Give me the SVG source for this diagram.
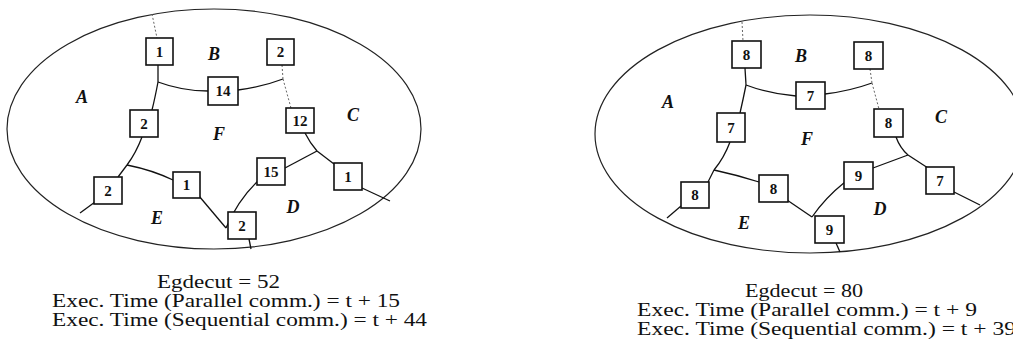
<svg xmlns="http://www.w3.org/2000/svg" width="1013" height="348" viewBox="0 0 1013 348">
<style>
.ell{fill:none;stroke:#222;stroke-width:1.2}
.box{fill:#fff;stroke:#111;stroke-width:1.6}
.num{font-family:"Liberation Serif",serif;font-weight:bold;font-size:15px;text-anchor:middle;fill:#111}
.reg{font-family:"Liberation Serif",serif;font-style:italic;font-weight:bold;font-size:18px;text-anchor:middle;fill:#111}
.cap{font-family:"Liberation Serif",serif;font-size:19px;fill:#111}
.ln{fill:none;stroke:#111;stroke-width:1.3}
.faint{fill:none;stroke:#666;stroke-width:1;stroke-dasharray:2 2}
</style>
<rect width="1013" height="348" fill="#fff"/>
<ellipse class="ell" cx="214" cy="129" rx="207" ry="120"/>
<ellipse class="ell" cx="810" cy="134" rx="215" ry="119"/>
<g id="connectors">
<path class="faint" d="M152,14 L157,38"/>
<path class="ln" d="M158,65 L158,82"/>
<path class="ln" d="M158,82 Q182,91 208,91"/>
<path class="ln" d="M238,90 Q262,87 283,79"/>
<path class="faint" d="M282,65 L283,79"/>
<path class="faint" d="M283,79 L291,108"/>
<path class="ln" d="M158,82 Q155,98 152,110"/>
<path class="ln" d="M142,137 Q136,153 127,165"/>
<path class="ln" d="M127,165 L118,177"/>
<path class="ln" d="M127,165 Q152,170 173,180"/>
<path class="ln" d="M95,202 L80,213"/>
<path class="ln" d="M199,196 L226,228"/>
<path class="ln" d="M258,181 Q238,200 226,228"/>
<path class="ln" d="M285,168 L317,151"/>
<path class="ln" d="M305,133 Q310,143 317,151"/>
<path class="ln" d="M317,151 L334,164"/>
<path class="ln" d="M362,188 L390,201"/>
<path class="ln" d="M249,239 L251,249"/>
<path class="faint" d="M742,22 L743,41"/>
<path class="ln" d="M745,68 L746,85"/>
<path class="ln" d="M746,85 Q770,94 796,96"/>
<path class="ln" d="M825,94 Q850,91 872,83"/>
<path class="faint" d="M870,69 L872,83"/>
<path class="faint" d="M872,83 L879,109"/>
<path class="ln" d="M746,85 Q743,100 740,113"/>
<path class="ln" d="M730,142 Q724,158 714,170"/>
<path class="ln" d="M714,170 L708,182"/>
<path class="ln" d="M714,170 Q737,175 759,182"/>
<path class="ln" d="M681,206 L667,218"/>
<path class="ln" d="M787,200 L812,217"/>
<path class="ln" d="M845,182 Q825,198 812,217"/>
<path class="ln" d="M873,168 L908,155"/>
<path class="ln" d="M896,137 Q900,148 908,155"/>
<path class="ln" d="M908,155 L928,168"/>
<path class="ln" d="M954,192 L980,205"/>
<path class="ln" d="M836,243 L840,252"/>
</g>
<g id="n1"><rect class="box" x="146" y="38" width="27" height="27"/><text class="num" x="159.5" y="57">1</text></g>
<g id="n2"><rect class="box" x="267" y="39" width="27" height="26"/><text class="num" x="280.5" y="57">2</text></g>
<g id="n3"><rect class="box" x="208" y="77" width="30" height="28"/><text class="num" x="223" y="96">14</text></g>
<g id="n4"><rect class="box" x="130" y="110" width="28" height="27"/><text class="num" x="144" y="129">2</text></g>
<g id="n5"><rect class="box" x="286" y="108" width="28" height="25"/><text class="num" x="300" y="126">12</text></g>
<g id="n6"><rect class="box" x="94" y="177" width="28" height="27"/><text class="num" x="108" y="196">2</text></g>
<g id="n7"><rect class="box" x="173" y="172" width="27" height="26"/><text class="num" x="186.5" y="190">1</text></g>
<g id="n8"><rect class="box" x="257" y="158" width="28" height="27"/><text class="num" x="271" y="177">15</text></g>
<g id="n9"><rect class="box" x="334" y="163" width="28" height="27"/><text class="num" x="348" y="182">1</text></g>
<g id="n10"><rect class="box" x="228" y="212" width="28" height="27"/><text class="num" x="242" y="231">2</text></g>
<g id="m1"><rect class="box" x="732" y="41" width="29" height="27"/><text class="num" x="746.5" y="60">8</text></g>
<g id="m2"><rect class="box" x="854" y="42" width="29" height="27"/><text class="num" x="868.5" y="61">8</text></g>
<g id="m3"><rect class="box" x="796" y="82" width="29" height="27"/><text class="num" x="810.5" y="101">7</text></g>
<g id="m4"><rect class="box" x="717" y="113" width="28" height="29"/><text class="num" x="731" y="133">7</text></g>
<g id="m5"><rect class="box" x="874" y="109" width="29" height="28"/><text class="num" x="888.5" y="128">8</text></g>
<g id="m6"><rect class="box" x="681" y="182" width="28" height="26"/><text class="num" x="695" y="200">8</text></g>
<g id="m7"><rect class="box" x="759" y="175" width="29" height="27"/><text class="num" x="773.5" y="194">8</text></g>
<g id="m8"><rect class="box" x="844" y="162" width="29" height="27"/><text class="num" x="858.5" y="181">9</text></g>
<g id="m9"><rect class="box" x="926" y="167" width="28" height="27"/><text class="num" x="940" y="186">7</text></g>
<g id="m10"><rect class="box" x="815" y="216" width="29" height="27"/><text class="num" x="829.5" y="235">9</text></g>
<g id="regions">
<text class="reg" x="82" y="103">A</text>
<text class="reg" x="214" y="60">B</text>
<text class="reg" x="353" y="121">C</text>
<text class="reg" x="219" y="140">F</text>
<text class="reg" x="293" y="213">D</text>
<text class="reg" x="157" y="224">E</text>
<text class="reg" x="668" y="108">A</text>
<text class="reg" x="801" y="62">B</text>
<text class="reg" x="941" y="123">C</text>
<text class="reg" x="807" y="145">F</text>
<text class="reg" x="880" y="215">D</text>
<text class="reg" x="744" y="229">E</text>
</g>
<g id="captions">
<text class="cap" x="157" y="288" textLength="123" lengthAdjust="spacingAndGlyphs">Egdecut = 52</text>
<text class="cap" x="52" y="307" textLength="348" lengthAdjust="spacingAndGlyphs">Exec. Time (Parallel comm.) = t + 15</text>
<text class="cap" x="52" y="326" textLength="375" lengthAdjust="spacingAndGlyphs">Exec. Time (Sequential comm.) = t + 44</text>
<text class="cap" x="745" y="297" textLength="118" lengthAdjust="spacingAndGlyphs">Egdecut = 80</text>
<text class="cap" x="637" y="316" textLength="340" lengthAdjust="spacingAndGlyphs">Exec. Time (Parallel comm.) = t + 9</text>
<text class="cap" x="637" y="335" textLength="379" lengthAdjust="spacingAndGlyphs">Exec. Time (Sequential comm.) = t + 39</text>
</g>
</svg>
